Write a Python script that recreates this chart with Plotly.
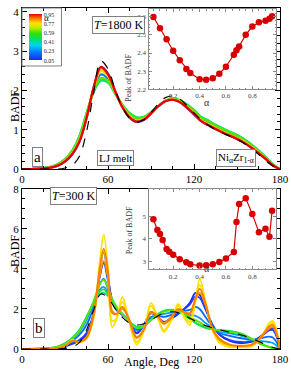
import plotly.graph_objects as go
from plotly.colors import sample_colorscale

SERIF = "Liberation Serif"

# ---------------- colour scale for alpha ----------------
CSCALE = [[0.0, 'rgb(30,40,240)'], [0.18, 'rgb(0,130,255)'], [0.32, 'rgb(0,215,235)'],
          [0.45, 'rgb(0,225,110)'], [0.58, 'rgb(50,225,0)'], [0.70, 'rgb(190,235,0)'],
          [0.80, 'rgb(255,225,0)'], [0.90, 'rgb(255,125,0)'], [1.0, 'rgb(230,0,0)']]
CB_TICKS = [0.05, 0.23, 0.41, 0.59, 0.77, 0.95]

# ---------------- panel a : T = 1800 K ----------------
ANG_A = [0, 5, 10, 15, 20, 25, 30, 35, 40, 45, 50, 55, 60, 65, 70, 75, 80, 85, 90, 95,
         100, 105, 110, 115, 120, 125, 130, 135, 140, 145, 150, 155, 160, 165, 170, 175, 180]
A_ALPHA = [0.05, 0.2, 0.33, 0.45, 0.6, 0.75, 0.85, 0.95]
A_005 = [0, 0, 0.01, 0.02, 0.04, 0.09, 0.19, 0.37, 0.69, 1.29, 2.07, 2.60, 2.43, 1.99, 1.58, 1.31, 1.20, 1.25, 1.41, 1.60,
         1.74, 1.78, 1.71, 1.56, 1.39, 1.22, 1.12, 1.02, 0.93, 0.85, 0.77, 0.67, 0.55, 0.41, 0.26, 0.10, 0]
A_020 = [0, 0, 0.01, 0.025, 0.05, 0.11, 0.23, 0.43, 0.78, 1.36, 2.02, 2.41, 2.30, 1.95, 1.61, 1.38, 1.27, 1.30, 1.44, 1.60,
         1.73, 1.78, 1.74, 1.61, 1.46, 1.28, 1.18, 1.08, 0.99, 0.90, 0.82, 0.72, 0.59, 0.45, 0.29, 0.11, 0]
A_033 = [0, 0, 0.01, 0.03, 0.06, 0.125, 0.25, 0.46, 0.82, 1.41, 1.97, 2.29, 2.22, 1.93, 1.63, 1.42, 1.31, 1.32, 1.45, 1.60,
         1.73, 1.79, 1.75, 1.64, 1.50, 1.32, 1.23, 1.12, 1.03, 0.94, 0.86, 0.75, 0.62, 0.47, 0.30, 0.12, 0]
A_045 = [0, 0, 0.01, 0.03, 0.06, 0.13, 0.26, 0.47, 0.84, 1.42, 1.96, 2.25, 2.20, 1.92, 1.64, 1.43, 1.32, 1.33, 1.45, 1.60,
         1.73, 1.79, 1.76, 1.65, 1.51, 1.33, 1.24, 1.13, 1.04, 0.95, 0.87, 0.76, 0.63, 0.48, 0.31, 0.12, 0]
A_060 = [0, 0, 0.01, 0.03, 0.055, 0.12, 0.25, 0.45, 0.81, 1.40, 1.98, 2.32, 2.24, 1.93, 1.63, 1.41, 1.30, 1.32, 1.44, 1.60,
         1.73, 1.79, 1.75, 1.63, 1.49, 1.31, 1.22, 1.11, 1.02, 0.93, 0.85, 0.74, 0.61, 0.46, 0.30, 0.12, 0]
A_075 = [0, 0, 0.01, 0.02, 0.05, 0.10, 0.22, 0.41, 0.74, 1.33, 2.05, 2.50, 2.36, 1.96, 1.60, 1.35, 1.24, 1.28, 1.43, 1.60,
         1.73, 1.78, 1.72, 1.59, 1.43, 1.25, 1.15, 1.05, 0.96, 0.87, 0.79, 0.70, 0.57, 0.43, 0.27, 0.11, 0]
A_085 = [0, 0, 0.01, 0.02, 0.04, 0.09, 0.21, 0.39, 0.71, 1.31, 2.07, 2.57, 2.40, 1.97, 1.59, 1.33, 1.22, 1.27, 1.42, 1.60,
         1.73, 1.77, 1.71, 1.58, 1.41, 1.23, 1.13, 1.03, 0.94, 0.86, 0.78, 0.68, 0.56, 0.42, 0.26, 0.10, 0]
A_095 = [0, 0, 0.01, 0.02, 0.04, 0.09, 0.20, 0.38, 0.70, 1.30, 2.08, 2.60, 2.42, 1.98, 1.58, 1.32, 1.21, 1.26, 1.42, 1.60,
         1.73, 1.77, 1.71, 1.57, 1.40, 1.22, 1.12, 1.02, 0.93, 0.85, 0.77, 0.67, 0.55, 0.41, 0.26, 0.10, 0]
A_CURVES = [A_005, A_020, A_033, A_045, A_060, A_075, A_085, A_095]
LJ_MELT = [0, 0, 0, 0, 0, 0, 0.03, 0.10, 0.32, 0.95, 1.95, 2.75, 2.55, 2.02, 1.58, 1.30, 1.20, 1.26, 1.44, 1.66,
           1.82, 1.86, 1.79, 1.62, 1.43, 1.26, 1.12, 1.01, 0.92, 0.84, 0.76, 0.66, 0.53, 0.38, 0.22, 0.08, 0]

# ---------------- panel b : T = 300 K ----------------
ANG_B = [0, 20, 25, 30, 35, 40, 45, 50, 54, 57, 60, 63, 66, 70, 74, 80, 85, 90, 95, 99,
         104, 109, 113, 117, 121, 124, 128, 133, 138, 145, 152, 160, 165, 169, 172, 175, 178, 180]
B_ALPHA = [0.05, 0.1, 0.17, 0.25, 0.45, 0.52, 0.6, 0.74, 0.77, 0.84, 0.86]
B_005 = [0, 0.02, 0.05, 0.12, 0.25, 0.40, 0.70, 1.70, 3.80, 4.85, 3.60, 2.40, 1.95, 1.70, 1.45, 0.78, 1.20, 1.85, 1.55, 1.30,
         1.50, 1.75, 2.00, 2.30, 2.80, 2.70, 2.05, 1.20, 0.70, 0.40, 0.30, 0.35, 0.55, 0.80, 1.00, 1.05, 0.60, 0]
B_010 = [0, 0.02, 0.06, 0.14, 0.28, 0.45, 0.80, 1.80, 3.50, 4.30, 3.40, 2.40, 1.95, 1.72, 1.45, 0.82, 1.20, 1.78, 1.58, 1.35,
         1.55, 1.78, 1.98, 2.22, 2.62, 2.55, 1.98, 1.18, 0.72, 0.45, 0.35, 0.38, 0.55, 0.75, 0.92, 0.95, 0.55, 0]
B_017 = [0, 0.03, 0.08, 0.20, 0.40, 0.70, 1.20, 2.10, 3.20, 3.50, 3.00, 2.40, 2.00, 1.75, 1.45, 0.95, 1.15, 1.60, 1.65, 1.60,
         1.70, 1.85, 1.90, 1.95, 2.10, 2.00, 1.60, 1.10, 0.80, 0.65, 0.55, 0.45, 0.50, 0.58, 0.62, 0.58, 0.30, 0]
B_025 = [0, 0.04, 0.10, 0.24, 0.48, 0.85, 1.45, 2.25, 2.95, 3.10, 2.80, 2.38, 2.03, 1.75, 1.45, 1.02, 1.15, 1.52, 1.70, 1.75,
         1.82, 1.86, 1.80, 1.70, 1.65, 1.55, 1.30, 1.05, 0.88, 0.78, 0.68, 0.48, 0.40, 0.38, 0.35, 0.30, 0.15, 0]
B_045 = [0, 0.05, 0.12, 0.28, 0.55, 0.95, 1.60, 2.30, 2.72, 2.82, 2.65, 2.33, 2.04, 1.75, 1.46, 1.10, 1.17, 1.47, 1.76, 1.90,
         1.95, 1.88, 1.72, 1.50, 1.30, 1.18, 1.06, 0.98, 0.94, 0.90, 0.80, 0.52, 0.32, 0.20, 0.12, 0.06, 0.02, 0]
B_052 = [0, 0.05, 0.12, 0.27, 0.53, 0.93, 1.58, 2.35, 2.85, 2.98, 2.75, 2.38, 2.05, 1.74, 1.44, 1.08, 1.14, 1.44, 1.74, 1.90,
         1.96, 1.90, 1.74, 1.52, 1.32, 1.20, 1.07, 0.98, 0.93, 0.88, 0.78, 0.50, 0.30, 0.18, 0.11, 0.05, 0.02, 0]
B_060 = [0, 0.04, 0.11, 0.25, 0.50, 0.90, 1.55, 2.40, 3.20, 3.45, 3.05, 2.50, 2.10, 1.75, 1.42, 1.05, 1.12, 1.45, 1.72, 1.86,
         1.93, 1.90, 1.78, 1.60, 1.45, 1.33, 1.15, 1.00, 0.92, 0.86, 0.76, 0.50, 0.30, 0.18, 0.11, 0.05, 0.02, 0]
B_074 = [0, 0.02, 0.05, 0.15, 0.42, 0.33, 0.55, 1.60, 3.70, 4.90, 3.60, 1.40, 1.55, 2.35, 1.60, 0.35, 0.95, 2.15, 1.50, 0.95,
         1.45, 2.15, 1.65, 1.35, 2.40, 3.20, 2.30, 0.95, 0.35, 0.12, 0.10, 0.15, 0.45, 0.85, 1.15, 1.30, 0.75, 0]
B_077 = [0, 0.02, 0.05, 0.15, 0.45, 0.35, 0.50, 1.60, 4.20, 5.70, 4.00, 1.10, 1.50, 2.60, 1.60, 0.22, 0.90, 2.30, 1.50, 0.85,
         1.40, 2.25, 1.60, 1.20, 2.40, 3.50, 2.40, 0.90, 0.30, 0.10, 0.08, 0.12, 0.40, 0.85, 1.25, 1.40, 0.80, 0]
B_084 = [0, 0.02, 0.05, 0.15, 0.42, 0.35, 0.60, 1.75, 3.60, 4.40, 3.60, 1.90, 1.75, 2.00, 1.60, 0.60, 1.00, 1.80, 1.60, 1.30,
         1.60, 1.95, 1.85, 1.80, 2.45, 2.80, 2.20, 1.00, 0.50, 0.22, 0.17, 0.22, 0.45, 0.78, 1.00, 1.10, 0.65, 0]
B_086 = [0, 0.02, 0.05, 0.15, 0.40, 0.35, 0.55, 1.70, 3.90, 5.00, 3.90, 1.80, 1.75, 2.10, 1.60, 0.55, 0.95, 1.85, 1.60, 1.25,
         1.55, 2.00, 1.85, 1.75, 2.55, 3.00, 2.30, 1.00, 0.45, 0.20, 0.15, 0.20, 0.45, 0.80, 1.10, 1.20, 0.70, 0]
B_CURVES = [B_005, B_010, B_017, B_025, B_045, B_052, B_060, B_074, B_077, B_084, B_086]

# ---------------- insets : peak of BADF vs alpha ----------------
INS_A_ALPHA = [0.05, 0.1, 0.15, 0.2, 0.25, 0.3, 0.33, 0.4, 0.45, 0.5, 0.55, 0.6, 0.66, 0.68, 0.7,
               0.75, 0.8, 0.85, 0.9, 0.93, 0.95]
INS_A_PEAK = [2.600, 2.538, 2.476, 2.413, 2.360, 2.312, 2.289, 2.255, 2.252, 2.260, 2.285, 2.324, 2.390,
              2.415, 2.436, 2.502, 2.547, 2.570, 2.579, 2.590, 2.604]
INS_B_ALPHA = [0.05, 0.08, 0.1, 0.12, 0.15, 0.17, 0.2, 0.25, 0.3, 0.33, 0.4, 0.45, 0.5, 0.55, 0.6,
               0.66, 0.68, 0.7, 0.75, 0.8, 0.85, 0.9, 0.93, 0.95]
INS_B_PEAK = [4.87, 4.40, 4.22, 3.95, 3.55, 3.43, 3.30, 3.10, 2.97, 2.88, 2.82, 2.83, 2.88, 2.98, 3.13,
              3.42, 4.75, 5.55, 5.80, 5.10, 4.30, 4.45, 4.10, 5.25]


def acol(a):
    return sample_colorscale(CSCALE, [(a - 0.05) / 0.9])[0]


fig = go.Figure()

for a, ys in zip(A_ALPHA, A_CURVES):
    fig.add_trace(go.Scatter(x=ANG_A, y=ys, mode='lines', line=dict(color=acol(a), width=2.2, shape='spline'),
                             xaxis='x', yaxis='y', showlegend=False, hoverinfo='skip'))
fig.add_trace(go.Scatter(x=ANG_A, y=LJ_MELT, mode='lines', line=dict(color='black', width=1.2, dash='dash', shape='spline'),
                         xaxis='x', yaxis='y', showlegend=False, hoverinfo='skip'))

for a, ys in zip(B_ALPHA, B_CURVES):
    fig.add_trace(go.Scatter(x=ANG_B, y=ys, mode='lines', line=dict(color=acol(a), width=1.8, shape='spline'),
                             xaxis='x2', yaxis='y2', showlegend=False, hoverinfo='skip'))
fig.add_trace(go.Scatter(x=ANG_A, y=LJ_MELT, mode='lines', line=dict(color='black', width=1.1, dash='dash', shape='spline'),
                         xaxis='x2', yaxis='y2', showlegend=False, hoverinfo='skip'))

# colour bar carrier (point outside visible range)
fig.add_trace(go.Scatter(x=[-50], y=[-50], mode='markers', xaxis='x', yaxis='y', showlegend=False, hoverinfo='skip',
                         marker=dict(size=1, color=[0.5], colorscale=CSCALE, cmin=0.05, cmax=0.95, showscale=True,
                                     colorbar=dict(x=0.0287, xanchor='left', xpad=0, y=0.9135, yanchor='middle', ypad=0,
                                                   len=46, lenmode='pixels', thickness=13, thicknessmode='pixels',
                                                   outlinewidth=0, tickvals=CB_TICKS,
                                                   ticktext=[f"{v:.2f}" for v in CB_TICKS], ticks='',
                                                   tickfont=dict(size=6, family=SERIF, color='#222')))))

INS_COL = 'rgb(215,0,0)'
fig.add_trace(go.Scatter(x=INS_A_ALPHA, y=INS_A_PEAK, mode='lines+markers', xaxis='x3', yaxis='y3',
                         line=dict(color=INS_COL, width=1.2), marker=dict(color=INS_COL, size=6.5),
                         showlegend=False, hoverinfo='skip'))
fig.add_trace(go.Scatter(x=INS_B_ALPHA, y=INS_B_PEAK, mode='lines+markers', xaxis='x4', yaxis='y4',
                         line=dict(color=INS_COL, width=1.2), marker=dict(color=INS_COL, size=6.5),
                         showlegend=False, hoverinfo='skip'))

TF = dict(size=11, family=SERIF, color='black')
main_common = dict(ticks='inside', ticklen=5, tickwidth=1, tickcolor='black', showline=True, linecolor='black',
                   linewidth=1, mirror='ticks', showgrid=False, zeroline=False, tickfont=TF,
                   ticklabeloverflow='allow')
ins_common = dict(ticks='inside', ticklen=3, tickwidth=1, tickcolor='#8a8a8a', showline=True, linecolor='#8a8a8a',
                  linewidth=1, mirror='ticks', showgrid=False, zeroline=False,
                  tickfont=dict(size=7, family=SERIF, color='#444'))

fig.update_layout(
    width=291, height=369, margin=dict(l=22, r=8, t=2, b=20),
    paper_bgcolor='white', plot_bgcolor='white', showlegend=False,
    xaxis=dict(domain=[0, 1], anchor='y', range=[0, 180], tick0=0, dtick=60,
               minor=dict(dtick=15, ticks='inside', ticklen=3, tickcolor='black'), **main_common),
    yaxis=dict(domain=[0.5274, 1], anchor='x', range=[0, 4.1], tick0=0, dtick=1,
               minor=dict(dtick=0.2, ticks='inside', ticklen=3, tickcolor='black'), **main_common),
    xaxis2=dict(domain=[0, 1], anchor='y2', range=[0, 180], tick0=0, dtick=60,
                minor=dict(dtick=15, ticks='inside', ticklen=3, tickcolor='black'), **main_common),
    yaxis2=dict(domain=[0, 0.4697], anchor='x2', range=[0, 8], tick0=0, dtick=2,
                minor=dict(dtick=0.5, ticks='inside', ticklen=3, tickcolor='black'), **main_common),
    xaxis3=dict(domain=[0.4904, 0.9847], anchor='y3', range=[0.013, 0.98], tick0=0, dtick=0.2,
                minor=dict(dtick=0.05, ticks='inside', ticklen=1.5, tickcolor='#8a8a8a'), **ins_common),
    yaxis3=dict(domain=[0.7622, 0.997], anchor='x3', range=[2.2, 2.644], tick0=2.2, dtick=0.1,
                minor=dict(dtick=0.02, ticks='inside', ticklen=1.5, tickcolor='#8a8a8a'), **ins_common),
    xaxis4=dict(domain=[0.4904, 0.9847], anchor='y4', range=[0.013, 0.98], tick0=0, dtick=0.2,
                minor=dict(dtick=0.05, ticks='inside', ticklen=1.5, tickcolor='#8a8a8a'), **ins_common),
    yaxis4=dict(domain=[0.2334, 0.4697], anchor='x4', range=[2.65, 6.22], tickvals=[3, 4, 5],
                **ins_common),
)

BOX = dict(bordercolor='#808080', borderwidth=1, bgcolor='white', showarrow=False, xref='paper', yref='paper')
ann = [
    dict(text='<i>T</i>=1800 K', x=0.270, y=0.9755, font=dict(size=12, family=SERIF, color='black'), borderpad=1, **BOX),
    dict(text='<i>T</i>=300 K', x=0.107, y=0.4496, font=dict(size=12, family=SERIF, color='black'), borderpad=1, **BOX),
    dict(text='a', x=0.0402, y=0.562, font=dict(size=15, family=SERIF, color='black'), borderpad=1, **BOX),
    dict(text='b', x=0.044, y=0.033, font=dict(size=15, family=SERIF, color='black'), borderpad=1, **BOX),
    dict(text='LJ melt', x=0.291, y=0.559, font=dict(size=11, family=SERIF, color='black'), borderpad=1, **BOX),
    dict(text='Ni<sub>α</sub>Zr<sub>1-α</sub>', x=0.908, y=0.559, font=dict(size=11, family=SERIF, color='black'),
         borderpad=1, **BOX),
]
PLAIN = dict(showarrow=False, xref='paper', yref='paper')
ann += [
    dict(text='BADF', x=-0.06, y=0.764, textangle=-90, font=dict(size=12, family=SERIF, color='black'), **PLAIN),
    dict(text='BADF', x=-0.06, y=0.2334, textangle=-90, font=dict(size=12, family=SERIF, color='black'), **PLAIN),
    dict(text='Angle, Deg', x=0.502, y=-0.0375, yanchor='middle', font=dict(size=12, family=SERIF, color='black'), **PLAIN),
    dict(text='α', x=0.0766, y=0.991, font=dict(size=9, family=SERIF, color='black'), **PLAIN),
    dict(text='α', x=0.7356, y=0.7435, font=dict(size=10, family=SERIF, color='#333'), **PLAIN),
    dict(text='α', x=0.7356, y=0.2133, font=dict(size=10, family=SERIF, color='#333'), **PLAIN),
    dict(text='Peak of BADF', x=0.415, y=0.872, textangle=-90, font=dict(size=8, family=SERIF, color='#333'), **PLAIN),
    dict(text='Peak of BADF', x=0.415, y=0.3487, textangle=-90, font=dict(size=8, family=SERIF, color='#333'), **PLAIN),
]
fig.update_layout(annotations=ann)
fig.add_shape(type='rect', xref='paper', yref='paper', x0=0.0, x1=0.153, y0=0.830, y1=1.0,
              line=dict(color='#808080', width=1), fillcolor='rgba(0,0,0,0)', layer='above')

fig.write_html("out.html", config={'displayModeBar': False},
               post_script="document.body.style.margin='0px';document.body.style.overflow='hidden';")
